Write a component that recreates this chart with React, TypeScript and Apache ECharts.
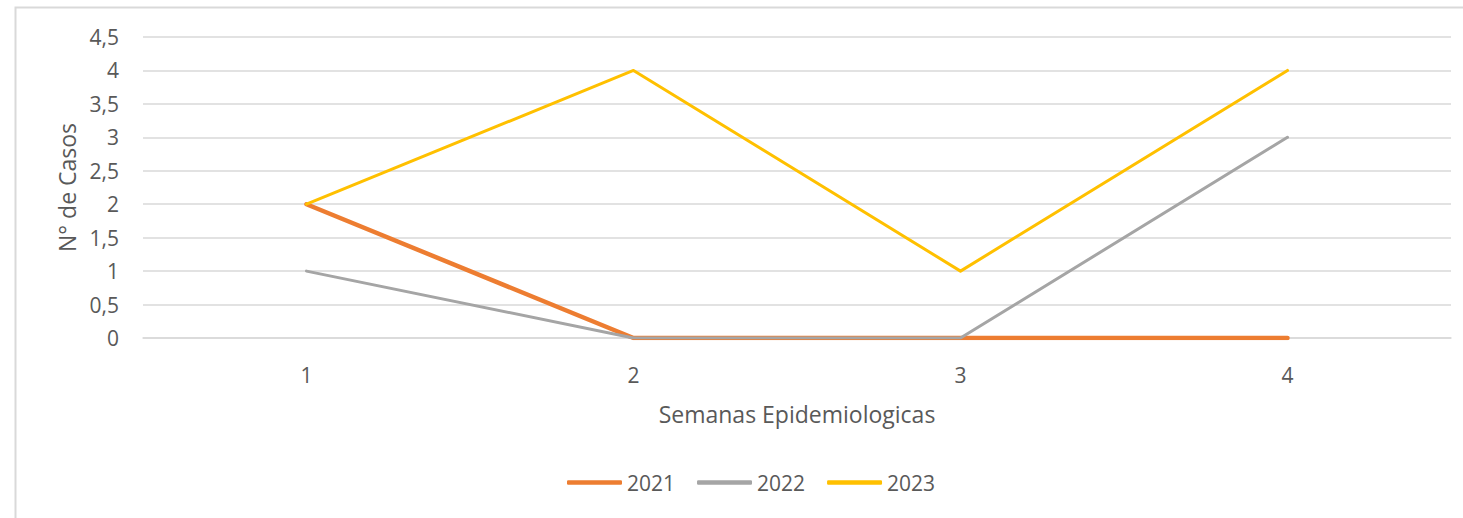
import React, { useEffect, useRef } from "react";
import * as echarts from "echarts";

const categories = ["1", "2", "3", "4"];
const s2021 = [2, 0, 0, 0];
const s2022 = [1, 0, 0, 3];
const s2023 = [2, 4, 1, 4];

const FONT = "'Open Sans', 'Liberation Sans', sans-serif";
const TXT = "#595959";

export default function App() {
  const ref = useRef<HTMLDivElement>(null);
  useEffect(() => {
    const chart = echarts.init(ref.current!, null, { renderer: "svg" });
    chart.setOption({
      animation: false,
      backgroundColor: "#ffffff",
      textStyle: { fontFamily: FONT },
      graphic: [
        {
          type: "rect",
          shape: { x: 15.5, y: 7.5, width: 1470, height: 530 },
          style: { fill: "none", stroke: "#d9d9d9", lineWidth: 2 },
          silent: true,
        },
      ],
      grid: { left: 143, right: 12, top: 37, bottom: 180 },
      legend: {
        top: 467,
        left: 562,
        itemWidth: 55,
        itemHeight: 4.5,
        itemGap: 22,
        icon: "roundRect",
        textStyle: { color: TXT, fontSize: 21, fontFamily: FONT },
        data: [
          { name: "2021", itemStyle: { color: "#ED7D31" } },
          { name: "2022", itemStyle: { color: "#A5A5A5" } },
          { name: "2023", itemStyle: { color: "#FFC000" } },
        ],
      },
      xAxis: {
        type: "category",
        data: categories,
        boundaryGap: true,
        axisLine: { show: true, lineStyle: { color: "#d9d9d9", width: 1.5 } },
        axisTick: { show: false },
        axisLabel: { color: TXT, fontSize: 21, margin: 26 },
        name: "Semanas Epidemiologicas",
        nameLocation: "middle",
        nameGap: 64,
        nameTextStyle: { color: TXT, fontSize: 23, fontFamily: FONT },
      },
      yAxis: {
        type: "value",
        min: 0,
        max: 4.5,
        interval: 0.5,
        axisLine: { show: false },
        axisTick: { show: false },
        splitLine: { lineStyle: { color: "#d9d9d9", width: 1.5 } },
        axisLabel: {
          color: TXT,
          fontSize: 21,
          margin: 24,
          formatter: (v: number) => String(v).replace(".", ","),
        },
        name: "N° de Casos",
        nameLocation: "middle",
        nameGap: 63,
        nameRotate: 90,
        nameTextStyle: { color: TXT, fontSize: 23, fontFamily: FONT },
      },
      series: [
        {
          name: "2021",
          type: "line",
          data: s2021,
          symbol: "none",
          lineStyle: { color: "#ED7D31", width: 4.5, cap: "round", join: "round" },
          itemStyle: { color: "#ED7D31" },
        },
        {
          name: "2022",
          type: "line",
          data: s2022,
          symbol: "none",
          lineStyle: { color: "#A5A5A5", width: 3, cap: "round", join: "round" },
          itemStyle: { color: "#A5A5A5" },
        },
        {
          name: "2023",
          type: "line",
          data: s2023,
          symbol: "none",
          lineStyle: { color: "#FFC000", width: 3, cap: "round", join: "round" },
          itemStyle: { color: "#FFC000" },
        },
      ],
    });
    return () => chart.dispose();
  }, []);
  return (
    <div
      ref={ref}
      style={{ position: "fixed", left: 0, top: 0, width: 1463, height: 518 }}
    />
  );
}
